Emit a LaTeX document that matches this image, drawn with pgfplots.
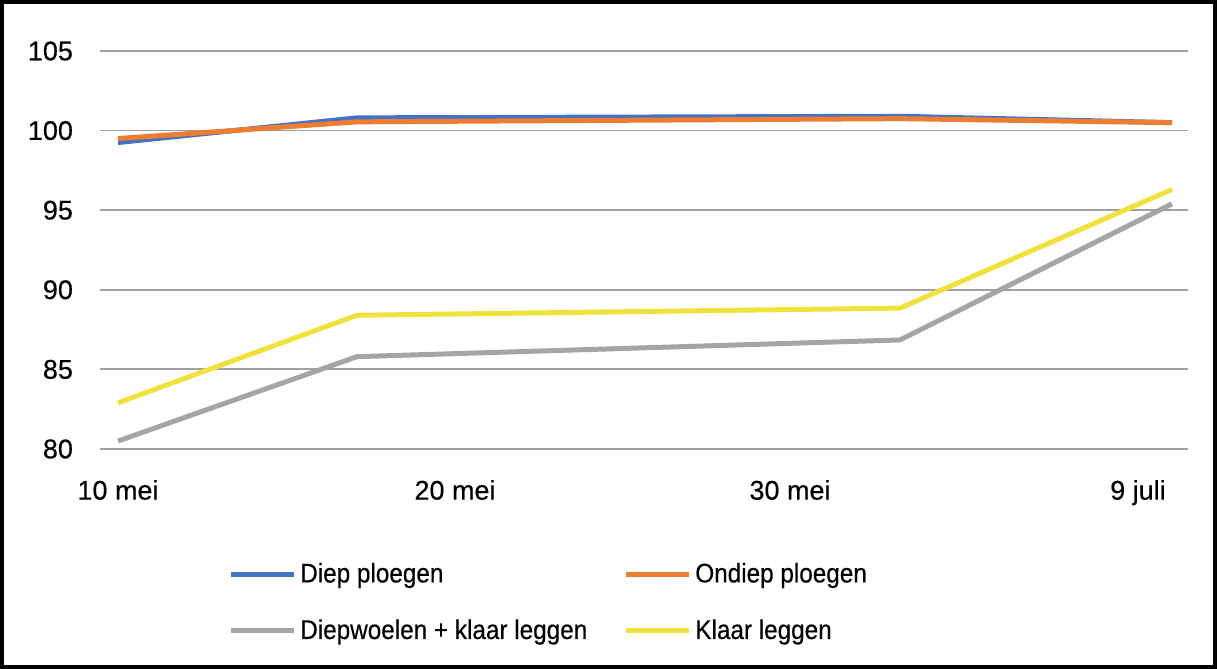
\documentclass[border=0pt]{standalone}
\usepackage{pgfplots}
\pgfplotsset{compat=1.18}
\usepackage{fontspec}
\setmainfont{Liberation Sans}[FakeBold=0.4]
\newfontfamily\legfont{Liberation Sans}[FakeStretch=0.9,FakeBold=0.4]

\definecolor{cblue}{RGB}{68,114,196}
\definecolor{corange}{RGB}{237,125,49}
\definecolor{cgray}{RGB}{165,165,165}
\definecolor{cyellow}{RGB}{240,226,60}
\definecolor{cgrid}{RGB}{160,160,160}

\begin{document}
\begin{tikzpicture}
\useasboundingbox (0,0) rectangle (608.5pt,334.5pt);
\draw[line width=2pt] (1pt,1pt) rectangle (607.5pt,333.5pt);
\begin{axis}[
  at={(50pt,110pt)}, anchor=south west,
  scale only axis, width=544pt, height=199pt,
  xmin=100, xmax=1188, ymin=80, ymax=105,
  xtick={118,455,790,1138},
  xticklabels={10 mei,20 mei,30 mei,9 juli},
  ytick={80,85,90,95,100,105},
  ymajorgrids, grid style={cgrid, line width=0.9pt},
  axis line style={draw=none},
  major tick length=0pt,
  tick label style={font=\fontsize{13.5}{16}\selectfont},
  /pgf/number format/assume math mode=true,
  yticklabel style={xshift=-10pt},
  xticklabel style={yshift=-12pt},
  clip=false,
  every axis plot/.append style={line width=2.5pt, line join=round},
  legend columns=2,
  legend cell align=left,
  legend image code/.code={\draw[line width=2.5pt] (0pt,0pt) -- (31.5pt,0pt);},
  legend style={draw=none, fill=none, at={(0.112,-0.265)}, anchor=north west,
    font=\legfont\fontsize{13.5}{16}\selectfont,
    row sep=13pt,
    /tikz/column 2/.style={column sep=16pt}},
]
\addplot[cblue] coordinates {(118,99.25) (357,100.8) (900,100.9) (1172,100.5)};
\addlegendentry{Diep ploegen}
\addplot[corange] coordinates {(118,99.5) (357,100.55) (900,100.75) (1172,100.5)};
\addlegendentry{Ondiep ploegen}
\addplot[cgray] coordinates {(118,80.5) (357,85.8) (900,86.85) (1172,95.4)};
\addlegendentry{Diepwoelen + klaar leggen}
\addplot[cyellow] coordinates {(118,82.9) (357,88.4) (900,88.85) (1172,96.3)};
\addlegendentry{Klaar leggen}
\end{axis}
\end{tikzpicture}
\end{document}
